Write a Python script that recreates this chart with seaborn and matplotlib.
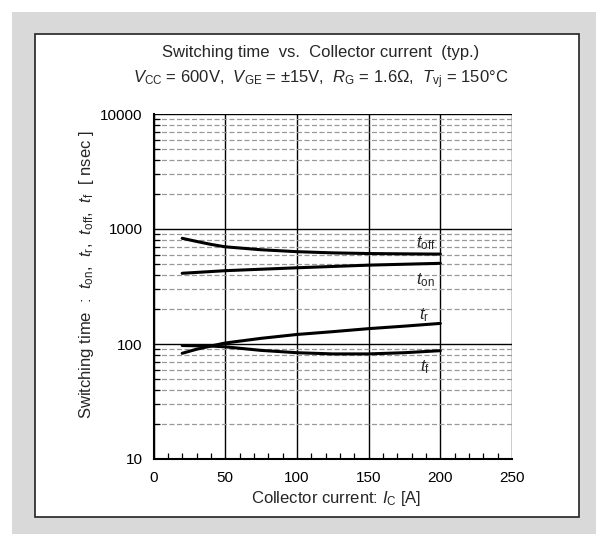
import matplotlib
matplotlib.use("Agg")
import matplotlib.pyplot as plt
import matplotlib.patches as mpatches
import matplotlib.ticker as mticker
import numpy as np
import pandas as pd
import seaborn as sns

# ---- data ----
ic_toff = [20, 30, 40, 50, 75, 100, 125, 150, 175, 200]
toff = [830, 780, 735, 700, 660, 635, 620, 612, 608, 605]
ic_ton = [20, 50, 100, 150, 200]
ton = [412, 434, 460, 485, 503]
ic_tr = [20, 30, 40, 50, 75, 100, 125, 150, 175, 200]
tr = [83, 90, 96, 102, 112, 121, 128, 136, 143, 151]
ic_tf = [20, 40, 50, 75, 100, 125, 150, 175, 200]
tf = [97, 96, 94.5, 88, 84, 82, 82, 84, 87.5]

x_ticks = [0, 50, 100, 150, 200, 250]
y_ticks = [10, 100, 1000, 10000]

title1 = "Switching time  vs.  Collector current  (typ.)"
title2 = (r"$\mathit{V}_{\rm CC}$ = 600V,  $\mathit{V}_{\rm GE}$ = ±15V,  "
          r"$\mathit{R}_{\rm G}$ = 1.6Ω,  $\mathit{T}_{\rm vj}$ = 150°C")
xlabel = r"Collector current: $\mathit{I}_{\rm C}$ [A]"
ylabel = (r"Switching time  :  $\mathit{t}_{\rm on}$,  $\mathit{t}_{\rm r}$,  "
          r"$\mathit{t}_{\rm off}$,  $\mathit{t}_{\rm f}$  [ nsec ]")

df = pd.concat([
    pd.DataFrame({"Ic": ic_toff, "t": toff, "s": "toff"}),
    pd.DataFrame({"Ic": ic_ton, "t": ton, "s": "ton"}),
    pd.DataFrame({"Ic": ic_tr, "t": tr, "s": "tr"}),
    pd.DataFrame({"Ic": ic_tf, "t": tf, "s": "tf"}),
], ignore_index=True)

sns.set_theme(style="white")
plt.rcParams["font.family"] = ["Liberation Sans", "DejaVu Sans"]
plt.rcParams["mathtext.fontset"] = "custom"
plt.rcParams["mathtext.rm"] = "Liberation Sans"
plt.rcParams["mathtext.it"] = "Liberation Sans:italic"
plt.rcParams["mathtext.default"] = "rm"

W, H = 596, 534
fig = plt.figure(figsize=(W / 100, H / 100), dpi=100, facecolor="white")

def frect(x0, y0, x1, y1, **kw):
    return mpatches.Rectangle((x0 / W, 1 - y1 / H), (x1 - x0) / W, (y1 - y0) / H,
                              transform=fig.transFigure, **kw)

def fx(px):
    return px / W

def fy(py):
    return 1 - py / H

fig.patches.append(frect(12, 12, 596, 534, facecolor="#d9d9d9", edgecolor="none", zorder=0))
fig.patches.append(frect(35, 34, 579, 517, facecolor="white", edgecolor="#222222",
                         linewidth=1.2, zorder=1))

ax = fig.add_axes([153.5 / W, 1 - 459 / H, (512 - 153.5) / W, (459 - 114) / H])
ax.set_zorder(2)
ax.set_facecolor("white")

sns.lineplot(data=df, x="Ic", y="t", hue="s", palette=["black"] * 4,
             legend=False, linewidth=2.2, ax=ax, sort=True)

ax.set_yscale("log")
ax.set_xlim(0, 250)
ax.set_ylim(10, 10000)
ax.set_xticks(x_ticks)
ax.set_xticklabels([str(v) for v in x_ticks])
ax.set_yticks(y_ticks)
ax.set_yticklabels([str(v) for v in y_ticks])
ax.xaxis.set_minor_locator(mticker.MultipleLocator(10))
ax.yaxis.set_minor_locator(mticker.LogLocator(base=10, subs=np.arange(2, 10)))
ax.yaxis.set_minor_formatter(mticker.NullFormatter())

ax.grid(which="major", axis="both", color="black", linewidth=1.0, linestyle="-")
ax.grid(which="minor", axis="y", color="#999999", linewidth=0.9, linestyle=(0, (4, 2)))
ax.grid(which="minor", axis="x", visible=False)

ax.tick_params(axis="x", which="major", direction="in", length=0, labelsize=11,
               colors="black", pad=9)
ax.tick_params(axis="y", which="major", direction="in", length=0, labelsize=11,
               colors="black", pad=8)
ax.tick_params(axis="x", which="minor", direction="in", length=4, width=0.9,
               color="black", bottom=True)
ax.tick_params(axis="y", which="minor", direction="in", length=4, width=0.9,
               color="black", left=True)
for side in ["top", "right"]:
    ax.spines[side].set_visible(False)
for side in ["left", "bottom"]:
    ax.spines[side].set_color("black")
    ax.spines[side].set_linewidth(1.5)

ax.set_xlabel("")
ax.set_ylabel("")
fig.text(fx(336), fy(499), xlabel, fontsize=12, ha="center", va="center")
fig.text(fx(87), fy(275), ylabel, fontsize=12, ha="center", va="center", rotation=90)

ax.text(183, 755, r"$\mathit{t}_{\rm off}$", fontsize=12, ha="left", va="center")
ax.text(183, 360, r"$\mathit{t}_{\rm on}$", fontsize=12, ha="left", va="center")
ax.text(185, 179, r"$\mathit{t}_{\rm r}$", fontsize=12, ha="left", va="center")
ax.text(186, 63.5, r"$\mathit{t}_{\rm f}$", fontsize=12, ha="left", va="center")

fig.text(fx(321), fy(53), title1, fontsize=12, ha="center", va="center")
fig.text(fx(321), fy(80), title2, fontsize=12, ha="center", va="center")

fig.savefig("out.png", dpi=100, facecolor="white")
